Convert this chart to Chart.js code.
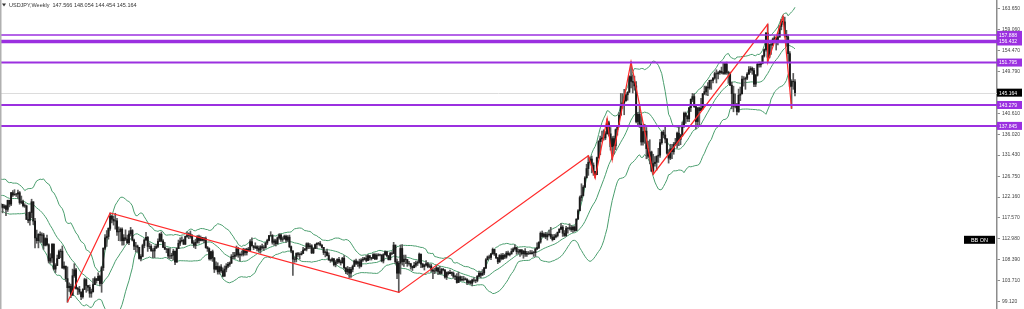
<!DOCTYPE html>
<html><head><meta charset="utf-8">
<script src="https://cdn.jsdelivr.net/npm/chart.js@4/dist/chart.umd.min.js"></script>
<style>html,body{margin:0;padding:0;background:#fff;overflow:hidden}canvas{display:block}</style>
</head><body>
<canvas id="c" width="1024" height="309"></canvas>
<script>
const symbolTitle = 'USDJPY,Weekly';
const lastBar = [147.566, 148.054, 144.454, 145.164];
const currentPrice = 145.164;

const priorCloses = [119.35,121.55,124.12,125.60,123.40,122.70,123.85,122.80,122.80,124.05,123.80,123.90,124.20,124.30,122.00,121.70,119.00,120.55,120.00];

const closes = [
120.56,119.87,120.21,119.45,121.45,120.62,123.13,122.63,122.79,122.83,123.13,120.97,121.18,120.30,120.21,
117.24,117.04,118.77,121.13,116.90,113.17,112.57,113.98,113.77,113.85,111.55,113.03,111.69,108.08,108.76,111.78,106.32,107.09,108.60,110.17,110.26,106.54,106.96,104.21,102.22,102.53,100.58,104.85,106.13,102.06,101.85,101.26,100.22,101.82,103.98,102.70,102.30,100.99,101.33,102.90,104.20,103.80,104.70,103.14,106.63,110.90,113.20,113.49,115.27,117.96,117.28,116.90,
116.95,114.50,114.58,115.10,112.55,113.20,112.90,112.13,114.05,114.80,112.70,111.35,111.40,111.10,108.65,109.10,111.50,112.70,113.30,111.30,111.30,110.40,110.30,110.90,111.30,112.40,114.00,112.50,111.10,110.70,110.70,109.20,109.20,109.35,110.25,107.85,110.85,112.00,112.50,112.65,111.80,113.50,113.70,114.05,113.50,112.10,111.55,112.20,113.45,112.60,113.30,112.65,
113.05,111.05,110.80,108.60,110.15,108.75,106.30,106.90,105.70,106.80,105.95,104.75,106.30,106.95,107.35,107.65,109.05,109.10,109.40,110.80,109.40,109.55,109.55,110.65,109.95,110.70,110.45,112.35,111.40,111.05,111.25,110.85,110.50,111.25,111.05,111.00,112.05,112.60,113.70,113.70,112.20,112.55,111.90,113.20,113.85,112.85,112.95,113.55,112.70,113.35,111.25,110.30,108.50,
108.45,109.75,109.55,109.50,109.75,110.50,110.70,111.90,111.20,111.45,109.90,110.85,111.70,112.00,111.95,111.60,111.10,109.95,110.05,109.30,108.30,108.20,108.55,107.30,107.85,108.45,107.90,107.70,108.70,106.60,105.70,106.30,105.40,106.25,106.90,108.10,107.55,107.90,106.95,108.30,108.45,108.70,108.20,109.25,108.80,108.65,109.50,108.55,109.35,109.45,109.45,108.10,
109.50,110.15,109.25,108.40,109.75,109.75,111.60,107.90,105.40,107.60,110.85,107.95,108.50,108.40,107.55,107.50,106.90,106.60,107.15,107.60,107.80,109.60,107.40,106.85,107.20,107.50,106.90,107.00,106.10,105.85,105.90,106.60,105.80,105.35,106.25,106.15,104.55,105.55,105.30,105.60,105.40,104.70,104.65,103.35,104.60,103.85,104.05,104.15,104.00,103.35,103.60,103.20,
103.90,103.85,103.80,104.70,105.40,104.95,105.45,106.55,108.35,109.00,108.90,109.65,110.65,109.65,108.80,107.90,109.30,108.60,109.35,108.95,109.85,109.50,109.65,110.20,110.75,111.05,110.15,110.05,110.55,109.70,110.25,109.60,109.80,109.85,109.70,109.90,109.95,110.75,111.05,112.25,114.20,113.50,114.00,113.40,113.90,114.00,113.35,112.80,113.40,113.70,114.40,115.10,
115.55,114.20,113.70,115.25,115.25,115.45,115.00,115.55,114.80,117.30,119.15,122.05,122.50,124.35,126.40,128.45,129.80,130.55,129.20,127.85,127.10,130.85,134.40,135.00,135.20,135.20,136.10,138.55,136.10,133.25,135.05,133.45,137.00,137.65,140.20,142.60,142.90,143.35,144.70,145.25,148.70,147.65,147.45,146.65,138.80,140.40,138.25,134.30,136.60,136.70,132.85,131.15,
132.10,127.90,129.55,129.85,131.20,131.40,134.15,136.45,135.85,134.95,131.85,130.75,132.80,132.15,133.75,134.15,136.25,134.85,135.70,137.95,140.60,139.95,139.40,141.85,143.70,144.30,142.10,138.80,141.80,141.20,141.75,144.95,145.40,146.40,146.20,147.85,147.85,148.35,149.35,149.30,149.55,149.85,149.60,149.40,151.50,149.60,149.45,146.80,144.95,142.20,142.40,141.00,
144.60,144.90,148.15,148.15,148.35,149.25,150.20,150.50,150.05,147.05,149.00,151.40,151.30,151.60,153.25,154.65,158.30,152.95,155.75,155.65,156.95,157.25,156.75,157.40,159.75,160.85,160.75,157.85,157.45,153.75,146.55,147.65,147.566,145.164];

const highs = [
120.8,120.6,120.5,120.4,121.5,121.5,123.2,123.6,123.8,123.0,123.7,123.4,122.4,121.5,120.7,
120.4,118.8,118.9,121.7,121.0,117.5,114.9,114.1,114.5,114.3,114.2,113.2,113.8,111.9,109.7,111.9,111.9,107.5,109.4,110.5,110.7,111.4,107.9,106.9,106.8,103.3,103.0,106.3,107.5,106.5,102.3,102.5,101.3,102.0,104.3,104.2,102.7,102.8,101.9,104.2,104.6,104.2,105.5,105.0,106.9,111.0,113.9,114.8,115.4,118.66,118.2,118.0,
118.6,117.5,115.6,115.4,115.4,113.9,114.95,113.8,114.75,115.5,115.0,112.9,112.2,111.6,111.1,109.5,111.8,113.0,114.4,113.5,112.1,111.7,110.8,111.4,111.8,113.0,114.2,114.5,112.8,112.2,110.9,110.9,110.9,109.8,110.7,110.3,111.0,112.7,113.2,113.4,112.9,113.6,114.5,114.3,114.7,113.9,112.6,112.9,113.7,113.8,113.6,113.3,
113.3,113.4,111.3,111.0,110.2,110.5,108.9,107.9,107.7,107.0,107.3,106.6,107.0,107.5,107.8,107.9,109.5,110.0,110.0,111.4,111.1,109.9,110.3,110.9,110.8,110.9,111.1,112.8,113.2,111.5,112.1,111.5,111.4,111.5,111.8,111.5,112.2,112.9,113.7,114.55,113.9,112.9,112.9,113.4,114.1,114.0,113.4,113.8,113.8,113.7,113.8,111.4,110.4,
108.9,109.9,110.0,109.9,110.2,111.1,110.9,112.1,112.1,111.9,111.7,111.0,111.8,112.1,112.2,112.4,111.7,111.1,110.3,110.7,109.9,108.5,108.8,108.7,108.2,108.6,108.9,108.3,108.9,109.3,106.6,106.9,106.7,106.7,107.2,108.3,108.5,108.1,108.5,108.6,108.9,108.9,109.3,109.5,109.3,108.9,109.7,109.7,109.7,109.7,109.6,109.0,
109.7,110.3,110.2,109.3,110.0,110.1,112.2,111.6,108.5,108.0,111.6,111.7,109.4,109.4,108.1,108.0,107.6,107.0,107.8,108.1,108.1,109.85,109.6,107.6,107.4,108.2,107.8,107.4,107.4,106.4,106.5,107.0,106.6,106.9,106.5,106.5,106.1,105.7,105.8,106.1,105.7,105.7,105.0,105.3,105.65,104.8,104.7,104.7,104.4,104.2,103.9,103.8,
104.1,104.4,104.0,104.9,105.8,105.7,106.2,106.7,108.6,109.2,109.4,109.8,110.95,110.5,109.8,108.9,109.5,109.7,109.8,109.6,110.2,110.3,109.9,110.8,111.0,111.65,111.1,110.7,110.6,110.6,110.4,110.8,110.2,110.2,110.4,110.4,110.2,110.9,112.1,112.3,114.5,114.7,114.3,114.4,114.3,114.9,115.5,113.9,113.95,114.1,114.5,115.2,
116.35,115.9,114.8,115.7,115.5,116.3,115.9,115.7,115.8,117.4,119.4,122.4,125.1,124.7,126.7,129.4,131.25,131.0,131.2,129.7,127.6,130.95,134.6,135.6,136.7,137.0,136.6,139.4,138.9,137.5,135.5,135.6,137.2,137.9,140.8,144.99,144.95,145.9,144.9,145.4,148.9,151.95,149.1,148.8,147.6,140.8,142.25,139.9,137.85,138.2,137.5,134.5,
134.8,132.3,131.6,131.1,131.2,132.9,134.9,136.6,136.9,137.9,135.1,132.6,133.8,133.8,134.2,135.1,136.5,137.8,136.0,138.7,140.9,140.9,140.2,141.9,143.8,145.0,144.9,142.2,141.9,142.0,143.9,145.0,146.6,146.6,147.4,147.9,148.0,148.5,149.7,150.2,149.8,150.1,150.8,151.7,151.6,151.9,149.9,149.7,147.5,146.6,144.9,142.8,
145.95,146.4,148.8,148.7,148.6,149.6,150.9,150.9,150.8,150.5,149.2,151.85,151.97,151.9,153.4,154.8,158.4,160.2,155.9,156.5,157.2,157.7,157.3,158.3,159.9,161.3,161.95,161.8,158.9,157.9,154.2,148.0,149.4,148.054];

const lows = [
119.7,118.7,119.6,118.1,119.0,120.0,120.3,122.3,122.6,122.3,121.9,120.6,120.7,120.0,119.9,
117.3,116.5,115.97,117.6,116.1,110.98,112.0,110.98,112.2,112.2,110.66,111.4,111.4,107.65,107.6,107.8,106.1,105.55,107.9,108.7,108.8,106.5,106.3,103.6,99.0,101.4,99.99,100.7,104.5,101.9,100.7,100.8,99.55,99.9,101.8,101.2,101.5,100.1,100.1,101.2,103.2,103.2,103.8,102.6,101.2,106.0,110.6,111.3,112.9,114.8,116.5,116.0,
115.1,113.7,112.57,112.5,111.6,111.6,112.6,111.9,111.7,113.6,112.5,110.6,110.1,110.1,108.5,108.1,109.0,111.0,112.8,110.2,110.8,110.2,108.8,108.8,110.9,111.0,112.5,112.3,111.0,110.6,109.9,108.7,108.6,108.6,108.3,107.3,107.8,110.8,111.5,112.3,111.7,111.7,113.3,113.0,113.1,111.9,111.1,110.8,112.0,112.0,112.5,112.5,
112.1,110.9,110.2,108.3,108.3,108.0,105.55,106.1,105.2,105.2,105.6,104.6,104.7,105.7,106.6,106.9,107.5,108.6,108.6,109.1,108.9,108.1,109.2,109.2,109.4,109.4,110.3,110.4,111.4,110.6,110.8,110.3,110.1,109.8,110.7,110.4,110.9,111.7,112.5,113.6,111.8,111.6,111.4,111.8,112.9,112.4,112.4,112.9,112.2,112.4,111.0,109.9,104.9,
107.8,107.9,109.1,108.5,109.4,109.9,110.4,110.3,110.8,110.8,109.7,109.7,110.8,110.8,111.6,111.4,110.9,109.5,109.0,109.2,108.3,107.8,108.0,107.0,106.8,107.5,107.6,107.2,107.6,106.3,105.3,105.1,104.45,104.45,105.7,106.9,107.3,106.9,106.5,106.8,108.0,108.3,107.9,108.2,108.3,108.3,108.8,108.4,108.4,109.2,109.2,107.9,
107.65,109.4,109.0,108.3,108.3,109.5,109.7,107.5,104.2,101.18,105.2,107.2,106.9,107.5,106.9,107.2,106.3,106.0,106.7,106.8,107.1,107.6,106.6,106.6,106.1,107.0,106.6,106.6,105.7,104.2,105.3,105.8,105.1,105.2,105.2,105.9,104.3,104.0,105.0,105.3,104.9,104.3,104.0,103.2,104.1,103.7,103.9,103.7,103.9,102.9,103.1,102.95,
102.6,103.5,103.3,103.5,104.6,104.4,105.0,105.1,106.4,108.3,108.6,108.4,109.6,109.3,108.6,107.5,107.8,108.3,108.4,108.6,108.7,109.3,109.2,109.6,110.1,110.5,109.55,109.7,109.1,109.4,108.7,109.1,109.1,109.5,109.6,109.6,109.1,109.1,110.6,110.8,112.0,113.4,113.3,113.0,112.7,113.6,113.0,112.5,113.1,113.2,113.4,114.3,
115.0,113.5,113.5,113.5,114.2,114.9,114.6,114.4,114.6,114.8,117.3,119.2,121.3,122.4,124.3,126.6,126.95,129.8,127.5,126.95,126.36,127.5,130.7,131.5,134.3,134.7,134.8,136.0,135.6,132.5,130.4,131.7,132.6,135.8,137.6,140.3,141.7,140.3,143.3,143.5,145.3,146.2,145.1,145.7,138.5,137.7,137.5,133.6,133.6,134.0,130.6,130.8,
129.5,127.8,127.2,129.0,128.1,129.8,130.9,133.8,135.2,134.1,131.6,129.65,130.4,130.6,131.6,133.6,133.0,133.5,133.7,135.5,137.5,138.4,138.8,138.8,141.0,143.2,141.9,137.25,137.7,138.1,141.5,141.5,144.7,144.6,144.5,145.9,145.9,147.3,148.1,147.3,148.2,149.2,149.3,149.2,149.2,149.2,147.2,146.7,141.6,140.95,141.8,140.25,
140.8,143.4,144.9,146.6,145.9,148.0,149.2,149.6,149.2,146.5,146.5,148.8,150.8,150.8,151.5,153.0,154.3,151.9,152.8,153.6,155.5,156.4,154.55,155.7,157.7,159.0,160.2,157.4,155.4,151.9,146.4,141.68,145.9,144.454];

const zigzagIndex = [39, 64, 233, 344, 348, 355, 358, 369, 382, 449, 449, 458, 463];
const zigzagPrice = [99.0, 118.66, 101.18, 131.25, 126.36, 139.4, 130.4, 151.95, 127.2, 160.2, 151.9, 161.95, 141.68];

const levelPrices = [157.888, 156.432, 151.795, 142.45, 137.845];
const levelLabels = ['157.888', '156.432', '151.795', '143.279', '137.845'];

const tickValues = [163.650, 159.060, 154.470, 149.790, 140.610, 136.020, 131.430, 126.750, 122.160, 117.570, 112.980, 108.390, 103.710, 99.120];

const bbLabel = 'BB ON';
const bbPeriod = 20, bbDev = 2;

// ---- derived series ----
const opens = closes.map((c, i) => i === 0 ? priorCloses[priorCloses.length - 1] : (i === closes.length - 1 ? lastBar[0] : closes[i - 1]));
const allCloses = priorCloses.concat(closes);
const bbUp = [], bbMid = [], bbLow = [];
closes.forEach((c, i) => {
  const end = i + priorCloses.length;
  const win = allCloses.slice(end - bbPeriod + 1, end + 1);
  const m = win.reduce((a, b) => a + b, 0) / win.length;
  const sd = Math.sqrt(win.reduce((a, b) => a + (b - m) * (b - m), 0) / win.length);
  bbMid.push({x: i, y: m}); bbUp.push({x: i, y: m + bbDev * sd}); bbLow.push({x: i, y: m - bbDev * sd});
});
const wickData = closes.map((c, i) => ({x: i, y: [Math.min(lows[i], opens[i], c), Math.max(highs[i], opens[i], c)]}));
const bodyData = closes.map((c, i) => ({x: i, y: [Math.min(opens[i], c), Math.max(opens[i], c)]}));
const zzData = zigzagIndex.map((x, k) => ({x, y: zigzagPrice[k]}));

const LEVEL_COLOR = '#9b30e0';
const BB_COLOR = '#4a9e6e';
const levelWidths = [1.5, 3.5, 2, 2, 2];
const FONT = '"Liberation Sans", Arial, sans-serif';

const overlay = {
  id: 'overlay',
  beforeDatasetsDraw(chart) {
    const {ctx, chartArea: a, scales: {y}} = chart;
    const py = Math.round(y.getPixelForValue(currentPrice)) + 0.5;
    ctx.save();
    ctx.strokeStyle = '#dcdcdc'; ctx.lineWidth = 1;
    ctx.beginPath(); ctx.moveTo(a.left, py); ctx.lineTo(a.right, py); ctx.stroke();
    ctx.restore();
  },
  afterDatasetsDraw(chart) {
    const {ctx, chartArea: a, scales: {y}} = chart;
    ctx.save();
    ctx.strokeStyle = LEVEL_COLOR;
    levelPrices.forEach((v, k) => {
      const py = y.getPixelForValue(v);
      ctx.lineWidth = levelWidths[k];
      ctx.beginPath(); ctx.moveTo(a.left, py); ctx.lineTo(a.right, py); ctx.stroke();
    });
    ctx.restore();
  },
  afterDraw(chart) {
    const {ctx, chartArea: a, scales: {y}} = chart;
    ctx.save();
    ctx.fillStyle = '#b0b0b0'; ctx.fillRect(0, 0, 1.5, chart.height);
    ctx.font = '5px ' + FONT; ctx.textBaseline = 'middle'; ctx.textAlign = 'left';
    levelPrices.forEach((v, k) => {
      const py = y.getPixelForValue(v);
      ctx.fillStyle = LEVEL_COLOR; ctx.fillRect(a.right, py - 4, 25, 8);
      ctx.fillStyle = '#fff'; ctx.fillText(levelLabels[k], a.right + 2, py + 0.5);
    });
    const cp = y.getPixelForValue(currentPrice);
    ctx.fillStyle = '#000'; ctx.fillRect(a.right, cp - 4, 25, 8);
    ctx.fillStyle = '#fff'; ctx.fillText(currentPrice.toFixed(3), a.right + 2, cp + 0.5);
    const by = y.getPixelForValue(112.98);
    ctx.fillStyle = '#000'; ctx.fillRect(a.right - 33, by - 3, 31, 8);
    ctx.fillStyle = '#fff'; ctx.textAlign = 'center'; ctx.font = '5.5px ' + FONT;
    ctx.fillText(bbLabel, a.right - 17.5, by + 1.2);
    ctx.fillStyle = '#333';
    ctx.beginPath(); ctx.moveTo(2, 3.5); ctx.lineTo(6, 3.5); ctx.lineTo(4, 6.5); ctx.closePath(); ctx.fill();
    ctx.textAlign = 'left'; ctx.textBaseline = 'alphabetic'; ctx.font = '5.5px ' + FONT;
    ctx.fillText(symbolTitle + '  ' + lastBar.map(v => v.toFixed(3)).join(' '), 9, 7.2);
    ctx.restore();
  }
};

new Chart(document.getElementById('c'), {
  data: {
    datasets: [
      {type: 'line', data: zzData, borderColor: '#ff2a2a', borderWidth: 1.2, pointRadius: 0, order: 0, tension: 0},
      {type: 'bar', data: bodyData, backgroundColor: '#1a1a1a', barThickness: 1.3, grouped: false, order: 1, borderWidth: 0},
      {type: 'bar', data: wickData, backgroundColor: '#5a5a5a', barThickness: 1, grouped: false, order: 2, borderWidth: 0},
      {type: 'line', data: bbUp, borderColor: BB_COLOR, borderWidth: 1, pointRadius: 0, order: 3, tension: 0},
      {type: 'line', data: bbMid, borderColor: BB_COLOR, borderWidth: 1, pointRadius: 0, order: 3, tension: 0},
      {type: 'line', data: bbLow, borderColor: BB_COLOR, borderWidth: 1, pointRadius: 0, order: 3, tension: 0}
    ]
  },
  options: {
    responsive: false, animation: false, devicePixelRatio: 1, events: [],
    layout: {padding: 0},
    plugins: {legend: {display: false}, tooltip: {enabled: false}, title: {display: false}},
    scales: {
      x: {type: 'linear', min: -0.5, max: 583.3, display: false, offset: false, grid: {offset: false}},
      y: {
        position: 'right', min: 97.52, max: 165.57,
        afterBuildTicks(s) { s.ticks = tickValues.map(v => ({value: v})); },
        afterFit(s) { s.width = 27; s.paddingTop = 0; s.paddingBottom = 0; },
        border: {display: true, color: '#8c8c8c', width: 1.5},
        grid: {display: true, drawOnChartArea: false, drawTicks: true, tickLength: 3, color: '#8c8c8c'},
        ticks: {autoSkip: false, padding: 2, color: '#444', font: {size: 5, family: FONT}, callback: v => Number(v).toFixed(3)}
      }
    }
  },
  plugins: [overlay]
});
</script>
</body></html>
